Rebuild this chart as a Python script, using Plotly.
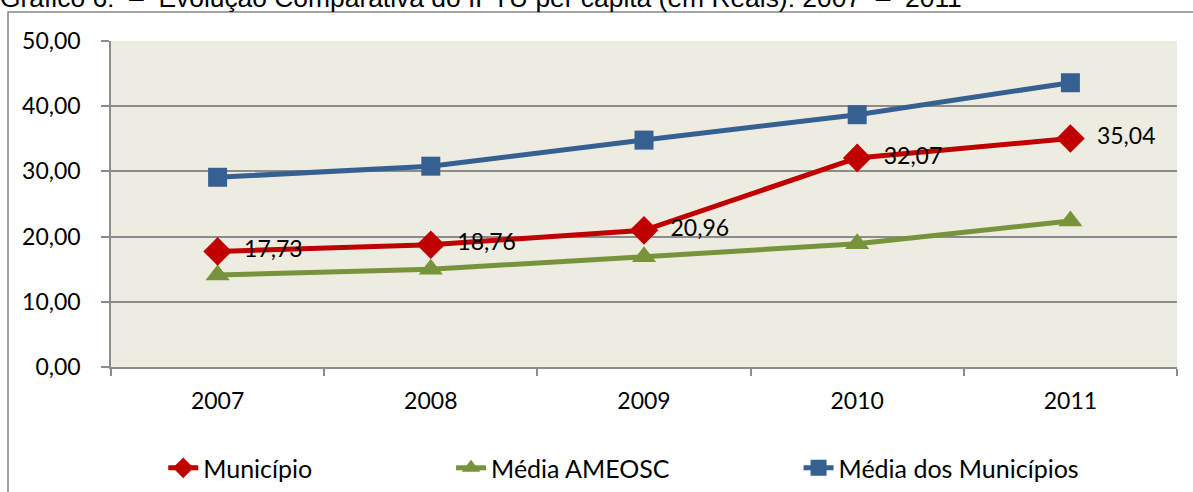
import plotly.graph_objects as go

years = ["2007", "2008", "2009", "2010", "2011"]
municipio = [17.73, 18.76, 20.96, 32.07, 35.04]
media_ameosc = [14.1, 15.0, 16.9, 18.9, 22.4]
media_municipios = [29.1, 30.8, 34.8, 38.7, 43.6]
y_ticks = [0, 10, 20, 30, 40, 50]

FONT = "Lato"
RED = "#C00000"
GREEN = "#77933C"
BLUE = "#376092"
GRID = "#8C8C8C"

fig = go.Figure()
fig.add_trace(go.Scatter(
    x=years, y=media_ameosc, name="Média AMEOSC", mode="lines+markers",
    line=dict(color=GREEN, width=5),
    marker=dict(symbol="triangle-up", size=21, color=GREEN),
    legend="legend2",
))
fig.add_trace(go.Scatter(
    x=years, y=media_municipios, name="Média dos Municípios", mode="lines+markers",
    line=dict(color=BLUE, width=5),
    marker=dict(symbol="square", size=19, color=BLUE),
    legend="legend3",
))
fig.add_trace(go.Scatter(
    x=years, y=municipio, name="Município", mode="lines+markers+text",
    line=dict(color=RED, width=5),
    marker=dict(symbol="diamond", size=22, color=RED),
    texttemplate="\u00a0\u00a0%{y:.2f}", textposition="middle right",
    textfont=dict(family=FONT, size=23, color="black"),
    legend="legend",
))

annotations = [dict(
    x=-0.106, y=1.080, xref="paper", yref="paper", xanchor="left", yanchor="bottom",
    text="Gráfico 6:\u00a0\u00a0–\u00a0\u00a0Evolução Comparativa do IPTU per capita (em Reais): 2007\u00a0\u00a0–\u00a0\u00a02011",
    showarrow=False, font=dict(family="Liberation Sans", size=26.4, color="black"),
)]

legend_common = dict(orientation="h", yanchor="middle", y=-0.31, xanchor="left",
                     font=dict(family=FONT, size=25, color="black"),
                     bgcolor="rgba(0,0,0,0)", borderwidth=0)

fig.update_layout(
    width=1193, height=492,
    margin=dict(l=111, r=16, t=41, b=125, autoexpand=False),
    paper_bgcolor="white",
    plot_bgcolor="#EEECE1",
    separators=",.",
    font=dict(family=FONT, size=23, color="black"),
    annotations=annotations,
    showlegend=True,
    legend=dict(x=0.049, **legend_common),
    legend2=dict(x=0.319, **legend_common),
    legend3=dict(x=0.645, **legend_common),
    shapes=[dict(type="rect", xref="paper", yref="paper",
                 x0=-0.0966, x1=1.05, y0=-0.6, y1=1.089,
                 line=dict(color="#868686", width=1.5), fillcolor="rgba(0,0,0,0)",
                 layer="below")],
)
fig.update_xaxes(
    type="category", range=[-0.5, 4.5], tickson="boundaries",
    ticks="outside", ticklen=7, tickcolor=GRID, tickwidth=1.5,
    showline=True, linecolor=GRID, linewidth=1.5, showgrid=False,
    ticklabelstandoff=13, tickfont=dict(family=FONT, size=23), automargin=False,
)
fig.update_yaxes(
    range=[0, 50], tickvals=y_ticks, tickformat=".2f",
    ticks="outside", ticklen=8, tickcolor=GRID, tickwidth=1.5,
    showline=True, linecolor=GRID, linewidth=1.5,
    showgrid=True, gridcolor=GRID, gridwidth=1.5, zeroline=False,
    ticklabelstandoff=16, tickfont=dict(family=FONT, size=23), automargin=False,
)

fig.write_html("out.html", config={"displayModeBar": False},
               post_script="document.body.style.margin='0';")
